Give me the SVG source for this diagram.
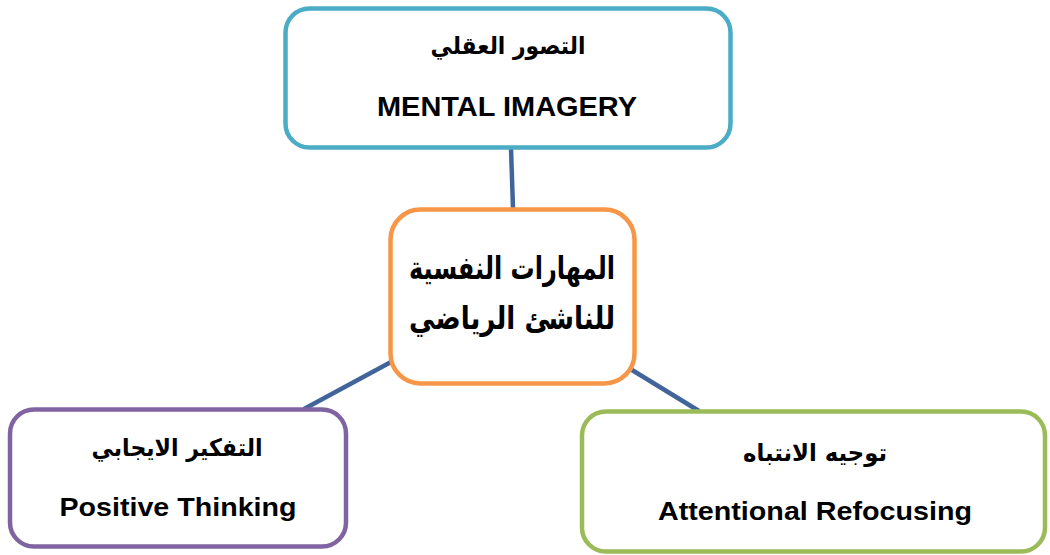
<svg xmlns="http://www.w3.org/2000/svg" width="1050" height="555" viewBox="0 0 1050 555">
<style>
.box{fill:#ffffff;stroke-width:4.5}
.ar{font-family:"DejaVu Sans","Liberation Sans",sans-serif;font-weight:bold;fill:#000;text-anchor:middle}
.en{font-family:"Liberation Sans","Arial",sans-serif;font-weight:bold;fill:#000;text-anchor:middle}
.conn{stroke:#41649a;stroke-width:4.5;fill:none}
</style>
<rect width="1050" height="555" fill="#ffffff"/>
<g id="connectors">
<line class="conn" x1="511" y1="148" x2="513" y2="209"/>
<line class="conn" x1="391" y1="362" x2="304" y2="409"/>
<line class="conn" x1="632" y1="370" x2="699" y2="411"/>
</g>
<g id="node-top">
<rect class="box" x="285.5" y="8.5" width="445" height="139" rx="24" stroke="#4bacc6"/>
<text class="ar" x="508" y="54" font-size="24" direction="rtl" textLength="155" lengthAdjust="spacingAndGlyphs">التصور العقلي</text>
<text class="en" x="507" y="116" font-size="27" textLength="260" lengthAdjust="spacingAndGlyphs">MENTAL IMAGERY</text>
</g>
<g id="node-center">
<rect class="box" x="390.5" y="209.5" width="244" height="174" rx="30" stroke="#f79646"/>
<text class="ar" x="512" y="279" font-size="32" direction="rtl" textLength="206" lengthAdjust="spacingAndGlyphs">المهارات النفسية</text>
<text class="ar" x="512" y="329" font-size="32" direction="rtl" textLength="206" lengthAdjust="spacingAndGlyphs">للناشئ الرياضي</text>
</g>
<g id="node-left">
<rect class="box" x="10" y="409.5" width="336" height="137" rx="24" stroke="#8064a2"/>
<text class="ar" x="177" y="456" font-size="24" direction="rtl" textLength="171" lengthAdjust="spacingAndGlyphs">التفكير الايجابي</text>
<text class="en" x="178" y="516" font-size="26" textLength="237" lengthAdjust="spacingAndGlyphs">Positive Thinking</text>
</g>
<g id="node-right">
<rect class="box" x="582" y="411.5" width="463" height="140" rx="24" stroke="#9bbb59"/>
<text class="ar" x="815" y="461" font-size="24" direction="rtl" textLength="144" lengthAdjust="spacingAndGlyphs">توجيه الانتباه</text>
<text class="en" x="815" y="520" font-size="26" textLength="314" lengthAdjust="spacingAndGlyphs">Attentional Refocusing</text>
</g>
</svg>
